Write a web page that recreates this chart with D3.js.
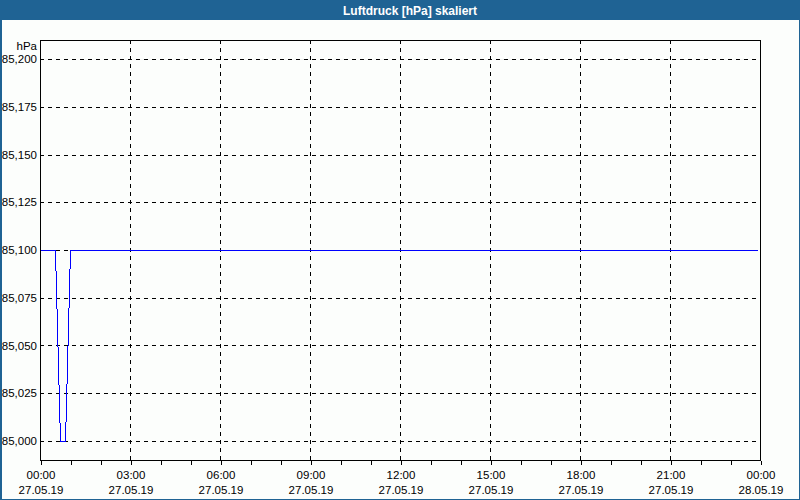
<!DOCTYPE html>
<html lang="de">
<head>
<meta charset="UTF-8">
<title>Luftdruck [hPa] skaliert</title>
<script src="https://cdn.jsdelivr.net/npm/d3@7"></script>
<style>
    body { margin: 0; background: #fcfefc; }
    svg { display: block; font-family: "Liberation Sans", Arial, sans-serif; }
</style>
</head>
<body>
<svg id="chart" width="800" height="500"></svg>
<script>
// measurement times (minutes since 27.05.19 00:00) and pressure values
const sampleMinutes = [0, 10, 20, 30, 40, 50, 60, 1434];
const pressure = [985.1, 985.1, 985.1, 985.1, 985.0, 985.0, 985.1, 985.1];

const yTicks = [985.000, 985.025, 985.050, 985.075, 985.100, 985.125, 985.150, 985.175, 985.200];
const xTickHours = [0, 3, 6, 9, 12, 15, 18, 21, 24];
const timeLabels = ["00:00", "03:00", "06:00", "09:00", "12:00", "15:00", "18:00", "21:00", "00:00"];
const dateLabels = ["27.05.19", "27.05.19", "27.05.19", "27.05.19", "27.05.19", "27.05.19", "27.05.19", "27.05.19", "28.05.19"];

const W = 800, H = 500;
const plot = { left: 40, top: 40, right: 760, bottom: 460 };
const barColor = "#1f6394";

const svg = d3.select("#chart");

const x = d3.scaleLinear().domain([0, 24]).range([plot.left, plot.right]);
const y = d3.scaleLinear().domain([984.99, 985.21]).range([plot.bottom, plot.top]);

// background
svg.append("rect").attr("width", W).attr("height", H).attr("fill", "#fcfefc");

// grid
const grid = svg.append("g").attr("shape-rendering", "crispEdges");
grid.selectAll("line.h")
    .data(yTicks)
    .enter().append("line")
    .attr("x1", plot.left).attr("x2", plot.right)
    .attr("y1", d => Math.round(y(d)) + 0.5).attr("y2", d => Math.round(y(d)) + 0.5)
    .attr("stroke", "#000").attr("stroke-dasharray", "4,4");
grid.selectAll("line.v")
    .data(xTickHours.slice(1, -1))
    .enter().append("line")
    .attr("x1", d => x(d) + 0.5).attr("x2", d => x(d) + 0.5)
    .attr("y1", plot.top).attr("y2", plot.bottom)
    .attr("stroke", "#000").attr("stroke-dasharray", "4,4");

// data line
const points = sampleMinutes.map((m, i) => [m / 60, pressure[i]]);
const line = d3.line().x(d => x(d[0]) + 0.5).y(d => Math.round(y(d[1])) + 0.5);
svg.append("path")
    .datum(points)
    .attr("d", line)
    .attr("fill", "none")
    .attr("stroke", "#0000ff")
    .attr("stroke-width", 1)
    .attr("shape-rendering", "crispEdges");

// plot frame
svg.append("rect")
    .attr("x", plot.left + 0.5).attr("y", plot.top + 0.5)
    .attr("width", plot.right - plot.left).attr("height", plot.bottom - plot.top)
    .attr("fill", "none").attr("stroke", "#000").attr("stroke-width", 1)
    .attr("shape-rendering", "crispEdges");

// x axis: hourly tick marks below the frame
const xAxis = d3.axisBottom(x)
    .tickValues(d3.range(0, 25))
    .tickSize(4)
    .tickFormat("");
const gx = svg.append("g")
    .attr("transform", `translate(0.5,${plot.bottom + 0.5})`)
    .call(xAxis);
gx.select(".domain").remove();
gx.selectAll("line").attr("shape-rendering", "crispEdges");

const xLab = svg.append("g").attr("font-size", 11.5).attr("fill", "#000").attr("text-anchor", "middle");
xLab.selectAll("text.t")
    .data(xTickHours)
    .enter().append("text")
    .attr("x", d => x(d) + 1)
    .attr("y", 479)
    .text((d, i) => timeLabels[i]);
xLab.selectAll("text.d")
    .data(xTickHours)
    .enter().append("text")
    .attr("x", d => x(d) + 1)
    .attr("y", 494)
    .text((d, i) => dateLabels[i]);

// y labels
const fmt = v => d3.format(".3f")(v).replace(".", ",");
const yAxis = d3.axisLeft(y).tickValues(yTicks).tickSize(0).tickPadding(3).tickFormat(fmt);
const gy = svg.append("g")
    .attr("transform", `translate(${plot.left},0)`)
    .call(yAxis);
gy.select(".domain").remove();
gy.selectAll("text")
    .attr("font-size", 11.5)
    .attr("font-family", "'Liberation Sans', Arial, sans-serif")
    .attr("fill", "#000");

svg.append("text")
    .attr("x", 37).attr("y", 50)
    .attr("text-anchor", "end")
    .attr("font-size", 11.5)
    .text("hPa");

// title bar
svg.append("rect").attr("x", 0).attr("y", 0).attr("width", W).attr("height", 20).attr("fill", barColor);
svg.append("text")
    .attr("x", 410).attr("y", 14.5)
    .attr("text-anchor", "middle")
    .attr("font-size", 12)
    .attr("font-weight", "bold")
    .attr("fill", "#fff")
    .text("Luftdruck [hPa] skaliert");

// outer frame
svg.append("rect")
    .attr("x", 0.5).attr("y", 0.5).attr("width", W - 1).attr("height", H - 1)
    .attr("fill", "none").attr("stroke", barColor).attr("stroke-width", 2)
    .attr("shape-rendering", "crispEdges");
</script>
</body>
</html>
